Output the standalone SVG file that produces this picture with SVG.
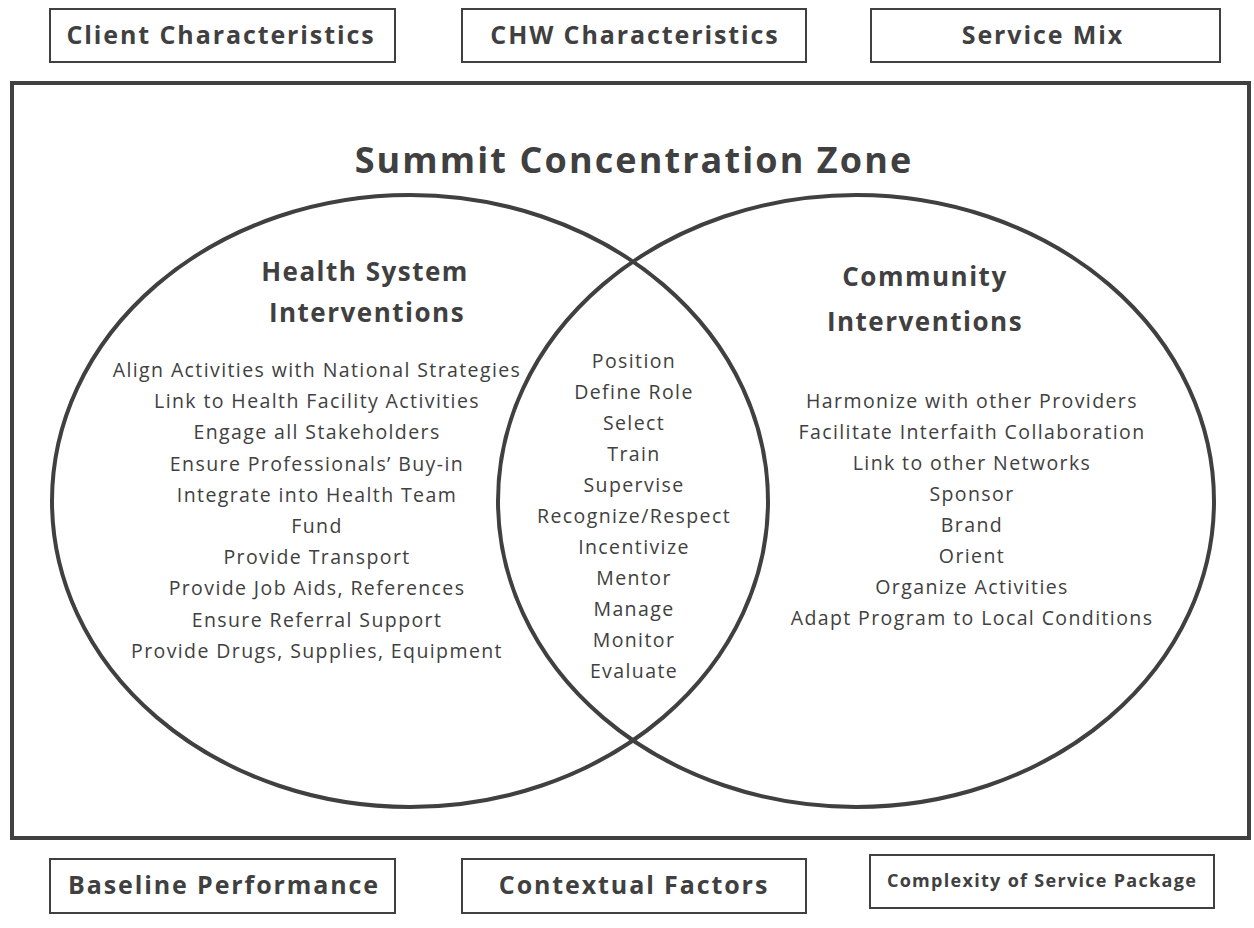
<svg xmlns="http://www.w3.org/2000/svg" width="1254" height="928" viewBox="0 0 1254 928">
<style>
text{font-family:"Open Sans","Noto Sans","Liberation Sans",sans-serif;fill:#404040;text-anchor:middle}
.lbl{font-size:25px;font-weight:bold;letter-spacing:1.9px}
.box{fill:#fff;stroke:#404040;stroke-width:2}
.ell{fill:none;stroke:#404040;stroke-width:4}
.head{font-size:26px;font-weight:bold;letter-spacing:1.5px}
.item{font-size:19.5px;letter-spacing:1.4px}
</style>
<rect width="1254" height="928" fill="#fff"/>
<g id="client"><rect class="box" x="50" y="9" width="345" height="53"/><text class="lbl" x="221" y="44">Client Characteristics</text></g>
<g id="chw"><rect class="box" x="462" y="9" width="344" height="53"/><text class="lbl" x="635" y="44">CHW Characteristics</text></g>
<g id="servicemix"><rect class="box" x="871" y="9" width="349" height="53"/><text class="lbl" x="1043" y="44">Service Mix</text></g>
<g id="zone">
<rect x="12" y="83" width="1237" height="755" fill="none" stroke="#404040" stroke-width="4"/>
<text x="634" y="173" style="font-size:36px;font-weight:bold;letter-spacing:2.1px">Summit Concentration Zone</text>
</g>
<g id="health">
<ellipse class="ell" cx="410" cy="501" rx="358" ry="306"/>
<text class="head" x="365" y="281">Health System</text>
<text class="head" x="367" y="322">Interventions</text>
<text class="item" x="317" y="377">Align Activities with National Strategies</text>
<text class="item" x="317" y="408.2">Link to Health Facility Activities</text>
<text class="item" x="317" y="439.4">Engage all Stakeholders</text>
<text class="item" x="317" y="470.6">Ensure Professionals’ Buy-in</text>
<text class="item" x="317" y="501.8">Integrate into Health Team</text>
<text class="item" x="317" y="533">Fund</text>
<text class="item" x="317" y="564.2">Provide Transport</text>
<text class="item" x="317" y="595.4">Provide Job Aids, References</text>
<text class="item" x="317" y="626.6">Ensure Referral Support</text>
<text class="item" x="317" y="657.8">Provide Drugs, Supplies, Equipment</text>
</g>
<g id="community">
<ellipse class="ell" cx="856" cy="501" rx="358" ry="306"/>
<text class="head" x="925" y="286">Community</text>
<text class="head" x="925" y="331">Interventions</text>
<text class="item" x="972" y="408">Harmonize with other Providers</text>
<text class="item" x="972" y="439">Facilitate Interfaith Collaboration</text>
<text class="item" x="972" y="470">Link to other Networks</text>
<text class="item" x="972" y="501">Sponsor</text>
<text class="item" x="972" y="532">Brand</text>
<text class="item" x="972" y="563">Orient</text>
<text class="item" x="972" y="594">Organize Activities</text>
<text class="item" x="972" y="625">Adapt Program to Local Conditions</text>
</g>
<g id="shared">
<text class="item" x="634" y="368">Position</text>
<text class="item" x="634" y="399">Define Role</text>
<text class="item" x="634" y="430">Select</text>
<text class="item" x="634" y="461">Train</text>
<text class="item" x="634" y="492">Supervise</text>
<text class="item" x="634" y="523">Recognize/Respect</text>
<text class="item" x="634" y="554">Incentivize</text>
<text class="item" x="634" y="585">Mentor</text>
<text class="item" x="634" y="616">Manage</text>
<text class="item" x="634" y="647">Monitor</text>
<text class="item" x="634" y="678">Evaluate</text>
</g>
<g id="baseline"><rect class="box" x="50" y="859" width="345" height="54"/><text class="lbl" x="224" y="894">Baseline Performance</text></g>
<g id="contextual"><rect class="box" x="462" y="859" width="344" height="54"/><text class="lbl" x="634" y="894">Contextual Factors</text></g>
<g id="complexity"><rect class="box" x="870" y="855" width="344" height="53"/><text x="1042" y="887" style="font-size:18px;font-weight:bold;letter-spacing:1.3px">Complexity of Service Package</text></g>
<g id="connectors"/>
</svg>
